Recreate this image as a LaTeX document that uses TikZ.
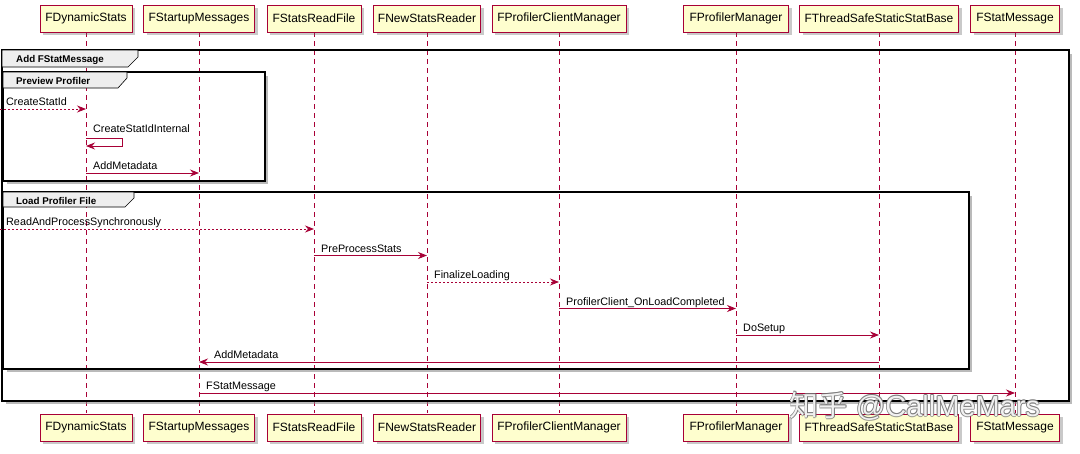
\documentclass[tikz,border=0pt]{standalone}
\usepackage{fontspec}
\setmainfont{Liberation Sans}
\newfontfamily\cjk{Noto Sans CJK SC}
\usetikzlibrary{arrows.meta,shadows}
\definecolor{pu}{HTML}{A80036}
\definecolor{pbox}{HTML}{FEFECE}
\definecolor{tabg}{HTML}{EEEEEE}
\tikzset{
  part/.style={draw=pu, fill=pbox, line width=0.9pt, minimum height=27pt, inner sep=0pt,
    font=\fontsize{12}{13}\selectfont, drop shadow={shadow xshift=3pt, shadow yshift=-3pt, opacity=0.35, fill=black!60}},
  life/.style={draw=pu, line width=0.6pt, dash pattern=on 5pt off 4pt},
  msg/.style={draw=pu, line width=0.8pt, -{Stealth[length=9pt,width=7pt,inset=3pt]}},
  amsg/.style={msg, dash pattern=on 2pt off 2pt},
  lbl/.style={anchor=base west, inner sep=0pt, font=\fontsize{10.8}{12}\selectfont},
  frm/.style={draw=black, line width=1.6pt},
  frmsh/.style={draw=black!45, line width=2.6pt, opacity=0.6},
  tabshape/.style={draw=black, line width=0.6pt, fill=tabg},
  tablbl/.style={anchor=west, inner sep=0pt, font=\bfseries\fontsize{9.8}{11}\selectfont},
  wmk/.style={anchor=center, inner sep=0pt, font=\fontsize{29}{31}\selectfont},
}
\begin{document}
\begin{tikzpicture}[x=1pt,y=-1pt]
\useasboundingbox (0,0) rectangle (1080,453);
\fill[white] (0,0) rectangle (1080,453);
% lifeline coordinates
\foreach \n/\x in {ds/86,sm/199,rf/314,nr/427,pcm/559,pm/736,ts/879,fm/1015}{
  \coordinate (lt-\n) at (\x,32);
  \coordinate (lb-\n) at (\x,413);
}
\foreach \n in {ds,sm,rf,nr,pcm,pm,ts,fm}{ \draw[life] (lt-\n) -- (lb-\n); }

% frames: shadows (right and bottom only)
\draw[frmsh] (6,403) -- (1071,403) -- (1071,54);
\draw[frmsh] (7,183) -- (267,183) -- (267,76);
\draw[frmsh] (7,371) -- (971,371) -- (971,196);
% outer frame
\draw[frm] (2,50) rectangle (1069,401);
\draw[tabshape] (2,50) -- (138,50) -- (138,57) -- (128,67) -- (2,67) -- cycle;
\node[tablbl] (fAdd) at (16,59.5) {Add FStatMessage};
% preview profiler
\draw[frm] (3,72) rectangle (265,181);
\draw[tabshape] (3,72) -- (127,72) -- (127,78) -- (118,88) -- (3,88) -- cycle;
\node[tablbl] (fPrev) at (16,81) {Preview Profiler};
% load profiler file
\draw[frm] (3,192) rectangle (969,369);
\draw[tabshape] (3,192) -- (134,192) -- (134,198) -- (125,207) -- (3,207) -- cycle;
\node[tablbl] (fLoad) at (16,200.5) {Load Profiler File};

% messages
\coordinate (in1) at (0,109);
\draw[amsg] (in1) -- (lt-ds |- in1);
\node[lbl] (l1) at (6,105.5) {CreateStatId};

\coordinate (s1) at (86,138);
\coordinate (s2) at (122,138);
\coordinate (s3) at (122,146);
\coordinate (s4) at (86,146);
\draw[msg] (s1) -- (s2) -- (s3) -- (s4);
\node[lbl] (l2) at (93,132) {CreateStatIdInternal};

\draw[msg] (lt-ds |- 0,173) -- (lt-sm |- 0,173);
\node[lbl] (l3) at (93,169.5) {AddMetadata};

\coordinate (in2) at (0,229);
\draw[amsg] (in2) -- (lt-rf |- in2);
\node[lbl] (l4) at (6,225.5) {ReadAndProcessSynchronously};

\draw[msg] (lt-rf |- 0,255.5) -- (lt-nr |- 0,255.5);
\node[lbl] (l5) at (321,252) {PreProcessStats};

\draw[amsg] (lt-nr |- 0,282) -- (lt-pcm |- 0,282);
\node[lbl] (l6) at (434,278.5) {FinalizeLoading};

\draw[msg] (lt-pcm |- 0,308.5) -- (lt-pm |- 0,308.5);
\node[lbl] (l7) at (566,305) {ProfilerClient\_OnLoadCompleted};

\draw[msg] (lt-pm |- 0,335) -- (lt-ts |- 0,335);
\node[lbl] (l8) at (743,331.5) {DoSetup};

\draw[msg] (lt-ts |- 0,362) -- (lt-sm |- 0,362);
\node[lbl] (l9) at (214,358.5) {AddMetadata};

\draw[msg] (lt-sm |- 0,393) -- (lt-fm |- 0,393);
\node[lbl] (l10) at (206,389.5) {FStatMessage};

% participants
\foreach \n/\x/\w/\t in {ds/86/92/FDynamicStats, sm/199/111/FStartupMessages, rf/314/94/FStatsReadFile,
  nr/427/107/FNewStatsReader, pcm/559/134/FProfilerClientManager, pm/736/105/FProfilerManager,
  ts/879/159/FThreadSafeStaticStatBase, fm/1015/89/FStatMessage}{
  \node[part, minimum width=\w pt] (top-\n) at (\x,18.5) {\t};
  \node[part, minimum width=\w pt] (bot-\n) at (\x,427.5) {\t};
}

% watermark (white letters with grey outline)
\foreach \dx/\dy in {-0.9/0,0.9/0,0/-0.9,0/0.9,-0.65/-0.65,0.65/0.65,-0.65/0.65,0.65/-0.65}{
  \node[wmk, text=black!55, opacity=0.6] at (915+\dx,406+\dy) {{\cjk 知乎} @CallMeMars};
}
\node[wmk, text=white, opacity=0.9] (wm) at (915,406) {{\cjk 知乎} @CallMeMars};
\end{tikzpicture}
\end{document}
